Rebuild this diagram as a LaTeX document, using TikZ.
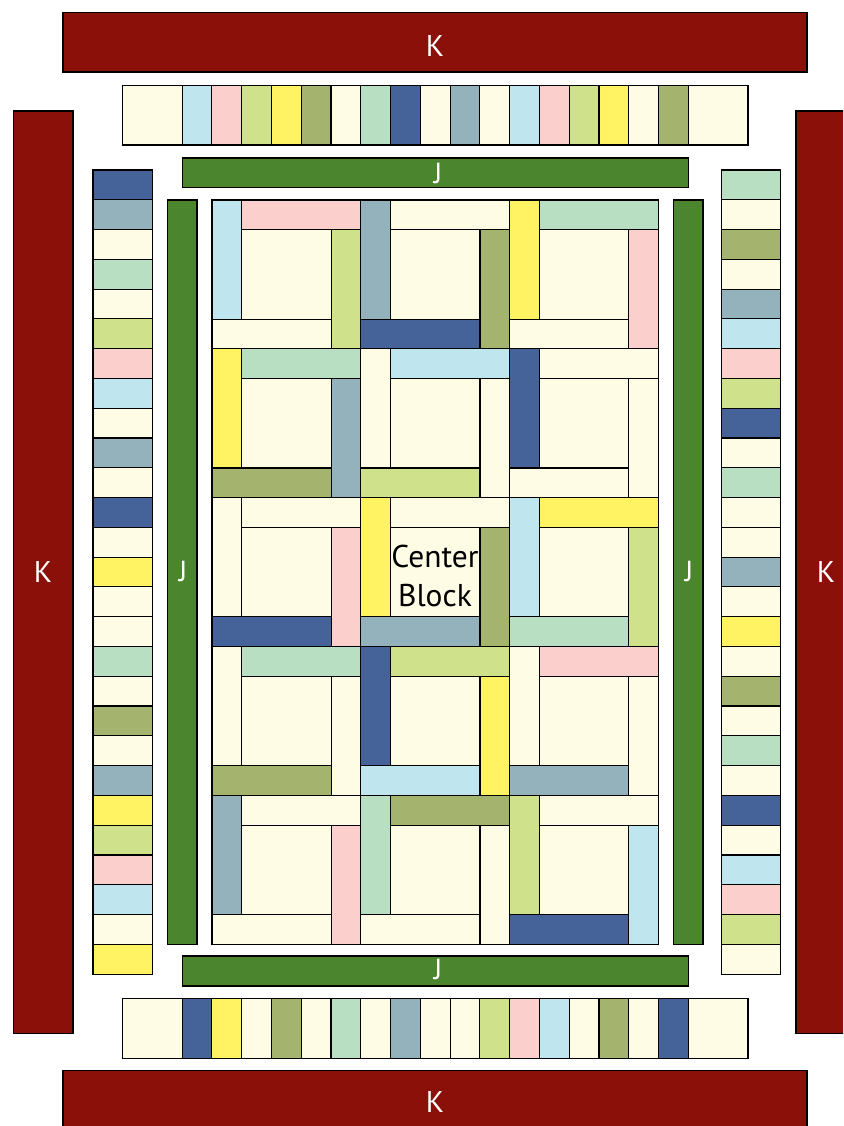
\documentclass[tikz,border=0pt]{standalone}
\usepackage{fontspec}
\setmainfont{PT Sans}
\definecolor{cr}{HTML}{FFFCE6}
\definecolor{lb}{HTML}{BFE6EF}
\definecolor{pk}{HTML}{FACFCC}
\definecolor{lm}{HTML}{CFE18B}
\definecolor{yl}{HTML}{FFF263}
\definecolor{ol}{HTML}{A4B46E}
\definecolor{mt}{HTML}{B8DFC2}
\definecolor{nv}{HTML}{466399}
\definecolor{gb}{HTML}{93B2BB}
\definecolor{kred}{HTML}{8B100A}
\definecolor{jgreen}{HTML}{4B852E}
\begin{document}
\begin{tikzpicture}[x=1pt,y=-1pt,
  patch/.style={draw=black,line width=1.1pt},
  klbl/.style={text=white,font=\fontsize{30}{36}\selectfont,inner sep=0pt},
  jlbl/.style={text=white,font=\fontsize{29}{34}\selectfont,inner sep=0pt}]
\useasboundingbox (0,0) rectangle (843,1126);
\clip (0,0) rectangle (843,1126);
\def\u{29.78}
% K borders
\filldraw[patch,fill=kred] (63,12.5) rectangle (807,72);
\filldraw[patch,fill=kred] (63,1070.7) rectangle (807,1132);
\filldraw[patch,fill=kred] (13.5,111) rectangle (73,1033.7);
\filldraw[patch,fill=kred] (796,111) rectangle (856,1033.7);
% J borders
\filldraw[patch,fill=jgreen] (182.2,158) rectangle (688.4,187.8);
\filldraw[patch,fill=jgreen] (182.2,956) rectangle (688.4,986);
\filldraw[patch,fill=jgreen] (167.2,200) rectangle (197,944.5);
\filldraw[patch,fill=jgreen] (673.2,200) rectangle (703,944.5);
% top and bottom piano rows
\foreach \yy in {85.5,998.7}{
  \filldraw[patch,fill=cr] (122.5,\yy) rectangle ++(59.6,59.5);
  \filldraw[patch,fill=cr] (688.4,\yy) rectangle ++(59.6,59.5);
}
\foreach \col [count=\i from 0] in {lb,pk,lm,yl,ol,cr,mt,nv,cr,gb,cr,lb,pk,lm,yl,cr,ol}{
  \filldraw[patch,fill=\col] (182.1+\i*\u,85.5) rectangle ++(\u,59.5);
}
\foreach \col [count=\i from 0] in {nv,yl,cr,ol,cr,mt,cr,gb,cr,cr,lm,pk,lb,cr,ol,cr,nv}{
  \filldraw[patch,fill=\col] (182.1+\i*\u,998.7) rectangle ++(\u,59.5);
}
% side piano columns
\foreach \col [count=\i from 0] in {nv,gb,cr,mt,cr,lm,pk,lb,cr,gb,cr,nv,cr,yl,cr,cr,mt,cr,ol,cr,gb,yl,lm,pk,lb,cr,yl}{
  \filldraw[patch,fill=\col] (93,170+\i*\u) rectangle ++(59.5,\u);
}
\foreach \col [count=\i from 0] in {mt,cr,ol,cr,gb,lb,pk,lm,nv,cr,mt,cr,cr,gb,cr,yl,cr,ol,cr,mt,cr,nv,cr,lb,pk,lm,cr}{
  \filldraw[patch,fill=\col] (721.3,170+\i*\u) rectangle ++(59.5,\u);
}
% center blocks
\foreach \r/\c/\L/\T/\R/\B in {
  0/0/lb/pk/lm/cr, 0/1/gb/cr/ol/nv, 0/2/yl/mt/pk/cr,
  1/0/yl/mt/gb/ol, 1/1/cr/lb/cr/lm, 1/2/nv/cr/cr/cr,
  2/0/cr/cr/pk/nv, 2/1/yl/cr/ol/gb, 2/2/lb/yl/lm/mt,
  3/0/cr/mt/cr/ol, 3/1/nv/lm/yl/lb, 3/2/cr/pk/cr/gb,
  4/0/gb/cr/pk/cr, 4/1/mt/ol/cr/cr, 4/2/lm/cr/lb/nv}{
  \pgfmathsetmacro\X{212+\c*148.9}
  \pgfmathsetmacro\Y{200+\r*148.9}
  \filldraw[patch,fill=\L] (\X,\Y) rectangle ++(\u,4*\u);
  \filldraw[patch,fill=\T] (\X+\u,\Y) rectangle ++(4*\u,\u);
  \filldraw[patch,fill=\R] (\X+4*\u,\Y+\u) rectangle ++(\u,4*\u);
  \filldraw[patch,fill=\B] (\X,\Y+4*\u) rectangle ++(4*\u,\u);
  \filldraw[patch,fill=cr] (\X+\u,\Y+\u) rectangle ++(3*\u,3*\u);
}
% labels
\node[klbl] (ktop) at (435,46.5) {K};
\node[klbl] (kbot) at (435,1102) {K};
\node[klbl] (kleft) at (43,572) {K};
\node[klbl] (kright) at (826,572) {K};
\node[jlbl] (jtop) at (438,173) {J};
\node[jlbl] (jbot) at (438,969) {J};
\node[jlbl] (jleft) at (183,571) {J};
\node[jlbl] (jright) at (689,571) {J};
\node[align=center,inner sep=0pt,font=\fontsize{31.5}{39}\selectfont] (center) at (435,576) {Center\\Block};
\end{tikzpicture}
\end{document}
